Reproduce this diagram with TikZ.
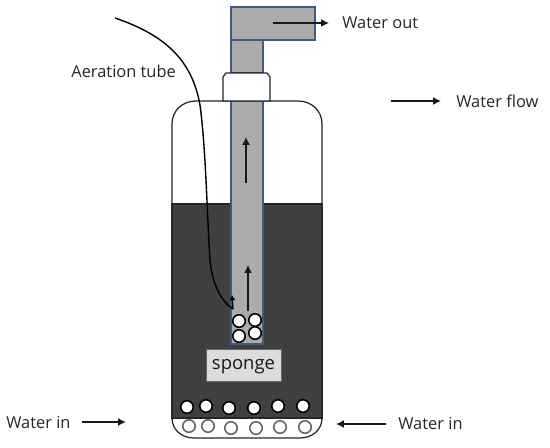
\documentclass[tikz,border=0pt]{standalone}
\usepackage{fontspec}
\setmainfont{Open Sans}
\usetikzlibrary{arrows.meta}
\definecolor{darkfill}{HTML}{404040}
\definecolor{pipefill}{HTML}{ABABAB}
\definecolor{pipeedge}{HTML}{3F5A85}
\definecolor{spongefill}{HTML}{DCDCDC}
\tikzset{
  px/.style={x=0.02cm,y=-0.02cm},
  pipe/.style={fill=pipefill,draw=pipeedge,line width=0.6pt},
  bottle/.style={draw=black!85,line width=0.7pt},
  flow/.style={-{Latex[length=4.5pt,width=4.5pt]},line width=0.8pt,black!90},
  bub/.style={circle,line width=0.9pt,fill=white,minimum size=0.25cm,inner sep=0pt},
  lbl/.style={font=\fontsize{9.35pt}{12pt}\selectfont,inner sep=0pt,text=black!85}
}
\begin{document}
\begin{tikzpicture}[px]
\useasboundingbox (0,0) rectangle (550,447);
\fill[white] (0,0) rectangle (550,447);
% bottle
\draw[bottle] (172,204) -- (172,124) .. controls (172,111) and (182,101) .. (196,101) -- (298,101) .. controls (312,101) and (322,111) .. (322,124) -- (322,418) .. controls (322,430) and (312,438) .. (300,438) -- (194,438) .. controls (182,438) and (172,430) .. (172,418) -- cycle;
\fill[darkfill,draw=black!85,line width=0.7pt] (172,204) rectangle (322,418);
% pipes
\draw[pipe] (231,7) -- (315,7) -- (315,40) -- (263,40) -- (263,73) -- (231,73) -- cycle;
\draw[pipe] (231,40) -- (263,40);
\draw[pipe] (231,101) rectangle (263,344);
% neck
\draw[bottle,fill=white] (223,101) -- (223,77) -- (226,73) -- (267,73) -- (270,77) -- (270,101) -- cycle;
% sponge
\node[fill=spongefill,draw=black!60,line width=0.3pt,minimum width=1.5cm,minimum height=0.64cm,inner sep=0pt,font=\fontsize{10.5pt}{12pt}\selectfont,text=black!90,text depth=2pt,text height=7pt] (sponge) at (243.5,365) {sponge};
% bubbles
\foreach \n/\x/\y in {a/239/321,b/255/320,c/239/336,d/255/333,
  e/187/407,f/206/406,g/229/408,h/254/408,i/278/406,j/303/406}
  \node[bub,draw=black] (\n) at (\x,\y) {};
\foreach \n/\x/\y in {k/189/426,l/208/426,m/231/428,n/256/428,o/280/427,p/305/427}
  \node[bub,draw=black!60] (\n) at (\x,\y) {};
% arrows
\coordinate (o1) at (273,23); \coordinate (o2) at (329,23);
\coordinate (f1) at (391,101); \coordinate (f2) at (441,101);
\coordinate (u1) at (246,183); \coordinate (u2) at (246,137);
\coordinate (v1) at (248,311); \coordinate (v2) at (248,265);
\coordinate (l1) at (82,422); \coordinate (l2) at (126,422);
\coordinate (r1) at (386,424); \coordinate (r2) at (336,424);
\foreach \a/\b in {o1/o2,f1/f2,u1/u2,v1/v2,l1/l2,r1/r2}
  \draw[flow] (\a) -- (\b);
% aeration tube
\coordinate (t0) at (115,18); \coordinate (t1) at (233,309); \coordinate (t2) at (232,295);
\draw[black,line width=0.8pt] (t0) .. controls (165,35) and (192,60) .. (200,105)
  .. controls (206,150) and (207,215) .. (210,260)
  .. controls (212,285) and (222,302) .. (t1);
\draw[-{Latex[length=3pt,width=3.5pt]},black,line width=0.7pt] (t1) -- (t2);
% labels
\node[lbl,anchor=west] (wo) at (342,23) {Water out};
\node[lbl,anchor=west] (wf) at (456,101) {Water flow};
\node[lbl,anchor=west] (at) at (71,71) {Aeration tube};
\node[lbl,anchor=west] (wl) at (6,423) {Water in};
\node[lbl,anchor=west] (wr) at (398,424) {Water in};
\end{tikzpicture}
\end{document}
